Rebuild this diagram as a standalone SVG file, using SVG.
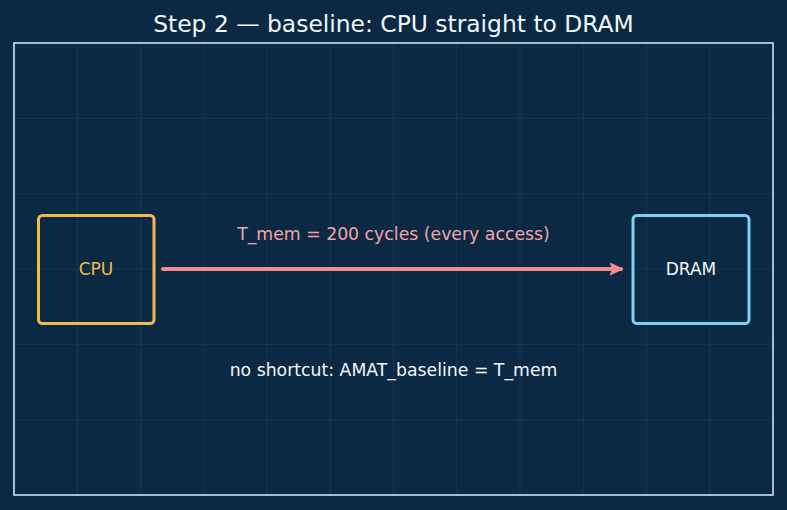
<svg xmlns="http://www.w3.org/2000/svg" width="787" height="510" viewBox="0 0 787 510">
<defs>
<style>
text{font-family:"DejaVu Sans","Liberation Sans",sans-serif;text-anchor:middle;dominant-baseline:central}
.grid line{stroke:#2a4a66;stroke-width:0.8;opacity:0.55}
.node rect{fill:none;stroke-width:3}
</style>
<marker id="ah" markerWidth="14" markerHeight="14" refX="11" refY="7" orient="auto" markerUnits="userSpaceOnUse" viewBox="0 0 14 14">
<path d="M0,1 L13,7 L0,13 L3,7 Z" fill="#f28b8f" stroke="#f28b8f" stroke-width="1" stroke-linejoin="round"/>
</marker>
</defs>
<rect width="787" height="510" fill="#0b2942"/>
<text x="393.5" y="24" font-size="23.4" fill="#f2f6fa">Step 2 — baseline: CPU straight to DRAM</text>
<rect x="14" y="43" width="759" height="452" fill="#0b2942"/>
<g class="grid">
<line x1="77.25" y1="43" x2="77.25" y2="495"/>
<line x1="140.5" y1="43" x2="140.5" y2="495"/>
<line x1="203.75" y1="43" x2="203.75" y2="495"/>
<line x1="267" y1="43" x2="267" y2="495"/>
<line x1="330.25" y1="43" x2="330.25" y2="495"/>
<line x1="393.5" y1="43" x2="393.5" y2="495"/>
<line x1="456.75" y1="43" x2="456.75" y2="495"/>
<line x1="520" y1="43" x2="520" y2="495"/>
<line x1="583.25" y1="43" x2="583.25" y2="495"/>
<line x1="646.5" y1="43" x2="646.5" y2="495"/>
<line x1="709.75" y1="43" x2="709.75" y2="495"/>
<line x1="14" y1="118.3" x2="773" y2="118.3"/>
<line x1="14" y1="193.7" x2="773" y2="193.7"/>
<line x1="14" y1="269" x2="773" y2="269"/>
<line x1="14" y1="344.3" x2="773" y2="344.3"/>
<line x1="14" y1="419.7" x2="773" y2="419.7"/>
</g>
<rect x="14" y="43" width="759" height="452" fill="none" stroke="#cfe2f0" stroke-width="1.6"/>
<g id="connectors">
<line x1="163" y1="269" x2="621" y2="269" stroke="#f28b8f" stroke-width="4" stroke-linecap="round" marker-end="url(#ah)"/>
<text x="393.5" y="234" font-size="17.3" fill="#f4a3ab">T_mem = 200 cycles (every access)</text>
</g>
<g id="cpu" class="node">
<rect x="38.5" y="215.5" width="115.5" height="108" rx="4" stroke="#f5b94a"/>
<text x="96" y="269" font-size="17" fill="#f5b94a">CPU</text>
</g>
<g id="dram" class="node">
<rect x="633" y="215.5" width="116" height="108" rx="4" stroke="#7fd0f8"/>
<text x="691" y="269" font-size="17" fill="#f2f6fa">DRAM</text>
</g>
<text x="393.5" y="370" font-size="17.3" fill="#f2f6fa">no shortcut: AMAT_baseline = T_mem</text>
</svg>
